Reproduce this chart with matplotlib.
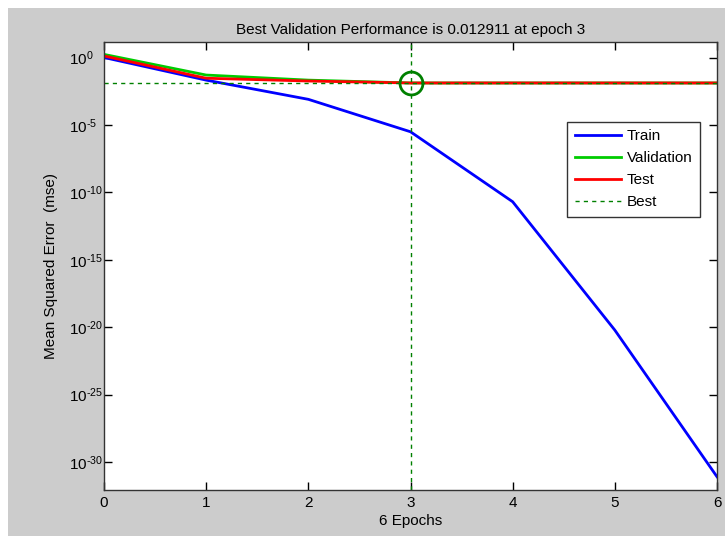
import numpy as np
import matplotlib.pyplot as plt
from matplotlib.patches import Rectangle
from matplotlib.ticker import FixedLocator, FuncFormatter, NullLocator

plt.rcParams["font.family"] = ["Liberation Sans", "DejaVu Sans"]
plt.rcParams["mathtext.fontset"] = "custom"
plt.rcParams["mathtext.rm"] = "Liberation Sans"
plt.rcParams["mathtext.it"] = "Liberation Sans"

# du lieu doc tu hinh
epochs = [0, 1, 2, 3, 4, 5, 6]
train = [1.0, 0.021, 7.9e-4, 3.1e-6, 2e-11, 6e-21, 8e-32]
validation = [1.7, 0.05, 0.021, 0.012911, 0.012911, 0.012911, 0.012911]
test = [1.3, 0.029, 0.018, 0.0129, 0.0129, 0.0129, 0.0129]
best_epoch = 3
best_perf = 0.012911
ytick_exp = [0, -5, -10, -15, -20, -25, -30]


def log_label(v, pos):
    e = int(round(np.log10(v)))
    s = str(e).replace("-", "\u2010")
    return "$10^{%s}$" % s


fig = plt.figure(figsize=(7.25, 5.36), dpi=100, facecolor="#cccccc")
# vien trang o tren va ben trai (anh chup man hinh)
fig.add_artist(Rectangle((0, 528 / 536), 1, 8 / 536, transform=fig.transFigure,
                         facecolor="white", edgecolor="none"))
fig.add_artist(Rectangle((0, 0), 8 / 725, 1, transform=fig.transFigure,
                         facecolor="white", edgecolor="none"))

ax = fig.add_axes([104 / 725, 46 / 536, 613 / 725, 448 / 536])
ax.set_facecolor("white")

ax.plot(epochs, train, color="#0000ff", lw=2, label="Train")
ax.plot(epochs, validation, color="#00cc00", lw=2, label="Validation")
ax.plot(epochs, test, color="#ff0000", lw=2, label="Test")
ax.axhline(best_perf, color="#008000", lw=1, ls=(0, (3, 3)), label="Best")
ax.axvline(best_epoch, color="#008000", lw=1, ls=(0, (3, 3)))
ax.plot([best_epoch], [best_perf], "o", mfc="none", mec="#008000", mew=2, ms=16.5)

ax.set_yscale("log")
ax.set_xlim(0, 6)
ax.set_ylim(10 ** -32.08, 10 ** 1.15)
ax.set_xticks(epochs)
ax.yaxis.set_major_locator(FixedLocator([10.0 ** e for e in ytick_exp]))
ax.yaxis.set_minor_locator(NullLocator())
ax.yaxis.set_major_formatter(FuncFormatter(log_label))
ax.tick_params(direction="in", top=True, right=True, length=6, width=1, labelsize=11)
ax.tick_params(axis="x", pad=4)
# co so "10" thang hang ben trai nhu MATLAB
ax.tick_params(axis="y", pad=25)
for lb in ax.get_yticklabels():
    lb.set_horizontalalignment("left")
for s in ax.spines.values():
    s.set_linewidth(1)
    s.set_color("#333333")

ax.set_title("Best Validation Performance is 0.012911 at epoch 3", fontsize=11, pad=6)
ax.set_xlabel("6 Epochs", fontsize=11, labelpad=3)
ax.set_ylabel("Mean Squared Error  (mse)", fontsize=11, labelpad=8)

leg = ax.legend(loc="upper right", bbox_to_anchor=(0.985, 0.839), fontsize=11,
                fancybox=False, edgecolor="#333333", framealpha=1,
                handlelength=3.0, handletextpad=0.4, borderpad=0.5, labelspacing=0.52)
leg.get_frame().set_linewidth(1)

fig.savefig("out.png", dpi=100, facecolor=fig.get_facecolor())
